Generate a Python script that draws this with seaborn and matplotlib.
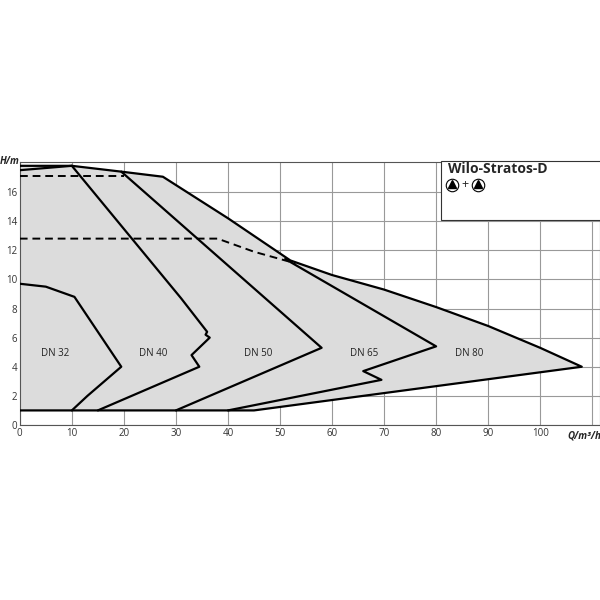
import numpy as np
import matplotlib.pyplot as plt
import seaborn as sns

sns.set_style("white")
plt.rcParams['font.family'] = ['Open Sans', 'DejaVu Sans']

# outer envelope (gray area)
outer_q = [0, 10, 19.5, 27.5, 40, 52, 60, 70, 80, 90, 100, 108, 45, 0]
outer_h = [17.8, 17.8, 17.4, 17.05, 14.2, 11.3, 10.3, 9.3, 8.1, 6.8, 5.3, 4.0, 1.0, 1.0]

dn32_q = [0, 5, 10.5, 19.5, 13, 10]
dn32_h = [9.7, 9.5, 8.8, 4.0, 2.0, 1.0]
dn32_top_q = [0, 10]
dn32_top_h = [17.5, 17.8]

dn40_q = [10, 31, 36, 35.7, 36.5, 33, 34.5, 15]
dn40_h = [17.8, 8.7, 6.4, 6.2, 6.0, 4.8, 4.0, 1.0]

dn50_q = [19.5, 58, 30]
dn50_h = [17.4, 5.3, 1.0]

dn65_q = [51, 80, 66, 69.5, 40]
dn65_h = [11.4, 5.4, 3.7, 3.1, 1.0]

dash1_q = [0, 20]
dash1_h = [17.1, 17.1]
dash2_q = [0, 38, 45, 53]
dash2_h = [12.8, 12.8, 11.9, 11.1]

labels = ["DN 32", "DN 40", "DN 50", "DN 65", "DN 80"]
label_q = [4, 23, 43, 63.5, 83.7]
label_h = [4.9, 4.9, 4.9, 4.9, 4.9]

fig = plt.figure(figsize=(6, 6), dpi=100)
ax = fig.add_axes([0.033, 0.2917, 0.967, 0.438])

ax.fill(outer_q, outer_h, color="#dcdcdc", zorder=1, lw=0)
ax.set_xlim(0, 111.5)
ax.set_ylim(0, 18.05)
ax.set_xticks(np.arange(0, 101, 10))
ax.set_yticks(np.arange(0, 17, 2))
ax.set_xticks(np.arange(0, 111, 10), minor=True)
ax.grid(True, which="both", color="#999999", lw=0.8, zorder=0)
ax.set_axisbelow(True)

lk = dict(color="black", lw=1.6, zorder=3)
ax.plot(outer_q, outer_h, **lk)
for q, h in [(dn32_q, dn32_h), (dn32_top_q, dn32_top_h), (dn40_q, dn40_h),
             (dn50_q, dn50_h), (dn65_q, dn65_h)]:
    ax.plot(q, h, **lk)
for q, h in [(dash1_q, dash1_h), (dash2_q, dash2_h)]:
    ax.plot(q, h, color="black", lw=1.4, linestyle=(0, (4, 2.5)), zorder=3)

for t, q, h in zip(labels, label_q, label_h):
    ax.text(q, h, t, fontsize=7, va="center", color="#222222", zorder=4)

for s in ax.spines.values():
    s.set_color("#555555")
    s.set_linewidth(0.8)
ax.tick_params(labelsize=7, length=0, pad=2, colors="#333333")

fig.text(0.0, 0.73, "H/m", fontsize=7, fontweight="bold", style="italic", va="center")
fig.text(0.945, 0.282, "Q/m³/h", fontsize=7, fontweight="bold", style="italic", va="top")

# type box
ax.add_patch(plt.Rectangle((81, 14.1), 31, 4.0, facecolor="white",
                           edgecolor="#333333", lw=0.8, zorder=5, clip_on=False))
ax.text(82.2, 17.55, "Wilo-Stratos-D", fontsize=10, fontweight="bold",
        va="center", zorder=6)
for cx in [83.0, 88.0]:
    ax.plot(cx, 16.5, "o", ms=9, mfc="white", mec="black", mew=0.8, zorder=6)
    ax.plot(cx, 16.55, "^", ms=5.5, color="black", zorder=7)
ax.text(85.5, 16.5, "+", fontsize=9, ha="center", va="center", zorder=6)

fig.savefig("out.png", dpi=100, facecolor="white")
